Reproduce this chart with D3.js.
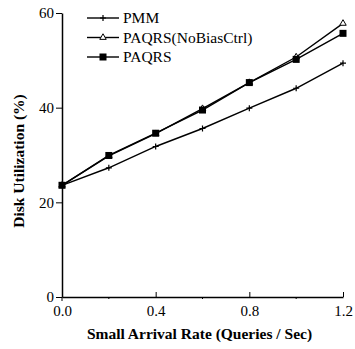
<!DOCTYPE html>
<html>
<head>
<meta charset="utf-8">
<script src="https://cdn.jsdelivr.net/npm/d3@7"></script>
<style>
  body { margin: 0; background: #fff; }
  svg { display: block; }
  text { font-family: "Liberation Serif", "Times New Roman", serif; fill: #000; }
</style>
</head>
<body>
<div id="chart"></div>
<script>
// arrival rates (queries / sec)
const rates = [0, 0.2, 0.4, 0.6, 0.8, 1.0, 1.2];
const pmm = [23.6, 27.3, 31.8, 35.6, 39.9, 44.1, 49.4];
const paqrsNoBias = [23.6, 29.8, 34.5, 39.8, 45.3, 50.7, 57.8];
const paqrs = [23.6, 29.9, 34.6, 39.5, 45.3, 50.2, 55.7];
const seriesNames = ["PMM", "PAQRS(NoBiasCtrl)", "PAQRS"];
const xTicks = [0, 0.4, 0.8, 1.2];
const xMinor = [0.2, 0.6, 1.0];
const yTicks = [0, 20, 40, 60];

const cfg = {
  w: 355,
  h: 349,
  margin: {top: 13, right: 12, bottom: 52, left: 62}
};
const graphW = cfg.w - cfg.margin.left - cfg.margin.right;
const graphH = cfg.h - cfg.margin.top - cfg.margin.bottom;

const svg = d3.select("#chart")
  .append("svg")
  .attr("width", cfg.w)
  .attr("height", cfg.h)
  .append("g")
  .attr("transform", "translate(" + cfg.margin.left + "," + cfg.margin.top + ")");

const x = d3.scaleLinear().domain([0, 1.2]).range([0, graphW]);
const y = d3.scaleLinear().domain([0, 60]).range([graphH, 0]);

// x axis, ticks point up into the plot
const xAxis = svg.append("g")
  .attr("transform", "translate(0," + graphH + ")")
  .call(d3.axisBottom(x).tickValues(xTicks).tickFormat(d3.format(".1f")).tickSizeInner(-5).tickSizeOuter(0));
xAxis.selectAll(".tick text").attr("y", 8).style("font-size", "15px");
xAxis.append("line").attr("x1", 0).attr("x2", 0).attr("y1", 0).attr("y2", 4).attr("stroke", "#000");
xAxis.selectAll(".minor").data(xMinor).enter().append("line")
  .attr("x1", d => x(d)).attr("x2", d => x(d)).attr("y1", 0).attr("y2", 2).attr("stroke", "#000");

// y axis
const yAxis = svg.append("g")
  .call(d3.axisLeft(y).tickValues(yTicks).tickSizeInner(6).tickSizeOuter(0));
yAxis.selectAll(".tick text").attr("x", -8).style("font-size", "15px");

svg.selectAll(".domain").attr("stroke-width", 1.5);

// lines
const line = d3.line()
  .x((d, i) => x(rates[i]))
  .y(d => y(d));

const series = [
  {name: seriesNames[0], values: pmm, marker: "plus"},
  {name: seriesNames[1], values: paqrsNoBias, marker: "triangle"},
  {name: seriesNames[2], values: paqrs, marker: "square"}
];

function drawMarker(g, type, cx, cy) {
  if (type === "plus") {
    g.append("path").attr("d", "M" + (cx - 3) + "," + cy + "h6M" + cx + "," + (cy - 3) + "v6")
      .attr("stroke", "#000").attr("stroke-width", 1.2);
  } else if (type === "triangle") {
    g.append("path").attr("d", d3.symbol().type(d3.symbolTriangle).size(18)())
      .attr("transform", "translate(" + cx + "," + cy + ")")
      .attr("fill", "#fff").attr("stroke", "#000").attr("stroke-width", 1);
  } else {
    g.append("rect").attr("x", cx - 3.5).attr("y", cy - 3.5).attr("width", 7).attr("height", 7).attr("fill", "#000");
  }
}

series.forEach(function(s) {
  svg.append("path")
    .datum(s.values)
    .attr("fill", "none")
    .attr("stroke", "#000")
    .attr("stroke-width", 1.4)
    .attr("d", line);
});
series.forEach(function(s) {
  const g = svg.append("g");
  s.values.forEach(function(v, i) { drawMarker(g, s.marker, x(rates[i]), y(v)); });
});

// legend
const legend = svg.append("g").attr("transform", "translate(25,5)");
series.forEach(function(s, i) {
  const row = legend.append("g").attr("transform", "translate(0," + (i * 19.5) + ")");
  row.append("line").attr("x1", 0).attr("x2", 32).attr("y1", 0).attr("y2", 0)
    .attr("stroke", "#000").attr("stroke-width", 1.4);
  drawMarker(row, s.marker, 16, 0);
  row.append("text").attr("x", 36).attr("y", 5).style("font-size", "15.5px").text(s.name);
});

// axis titles
svg.append("text")
  .attr("x", graphW / 2 - 3)
  .attr("y", graphH + 42)
  .attr("text-anchor", "middle")
  .style("font-size", "15.5px")
  .style("font-weight", "bold")
  .text("Small Arrival Rate (Queries / Sec)");

svg.append("text")
  .attr("transform", "translate(-38," + (y(0) - 136) + ") rotate(-90)")
  .attr("text-anchor", "middle")
  .style("font-size", "15.5px")
  .style("font-weight", "bold")
  .text("Disk Utilization (%)");
</script>
</body>
</html>
